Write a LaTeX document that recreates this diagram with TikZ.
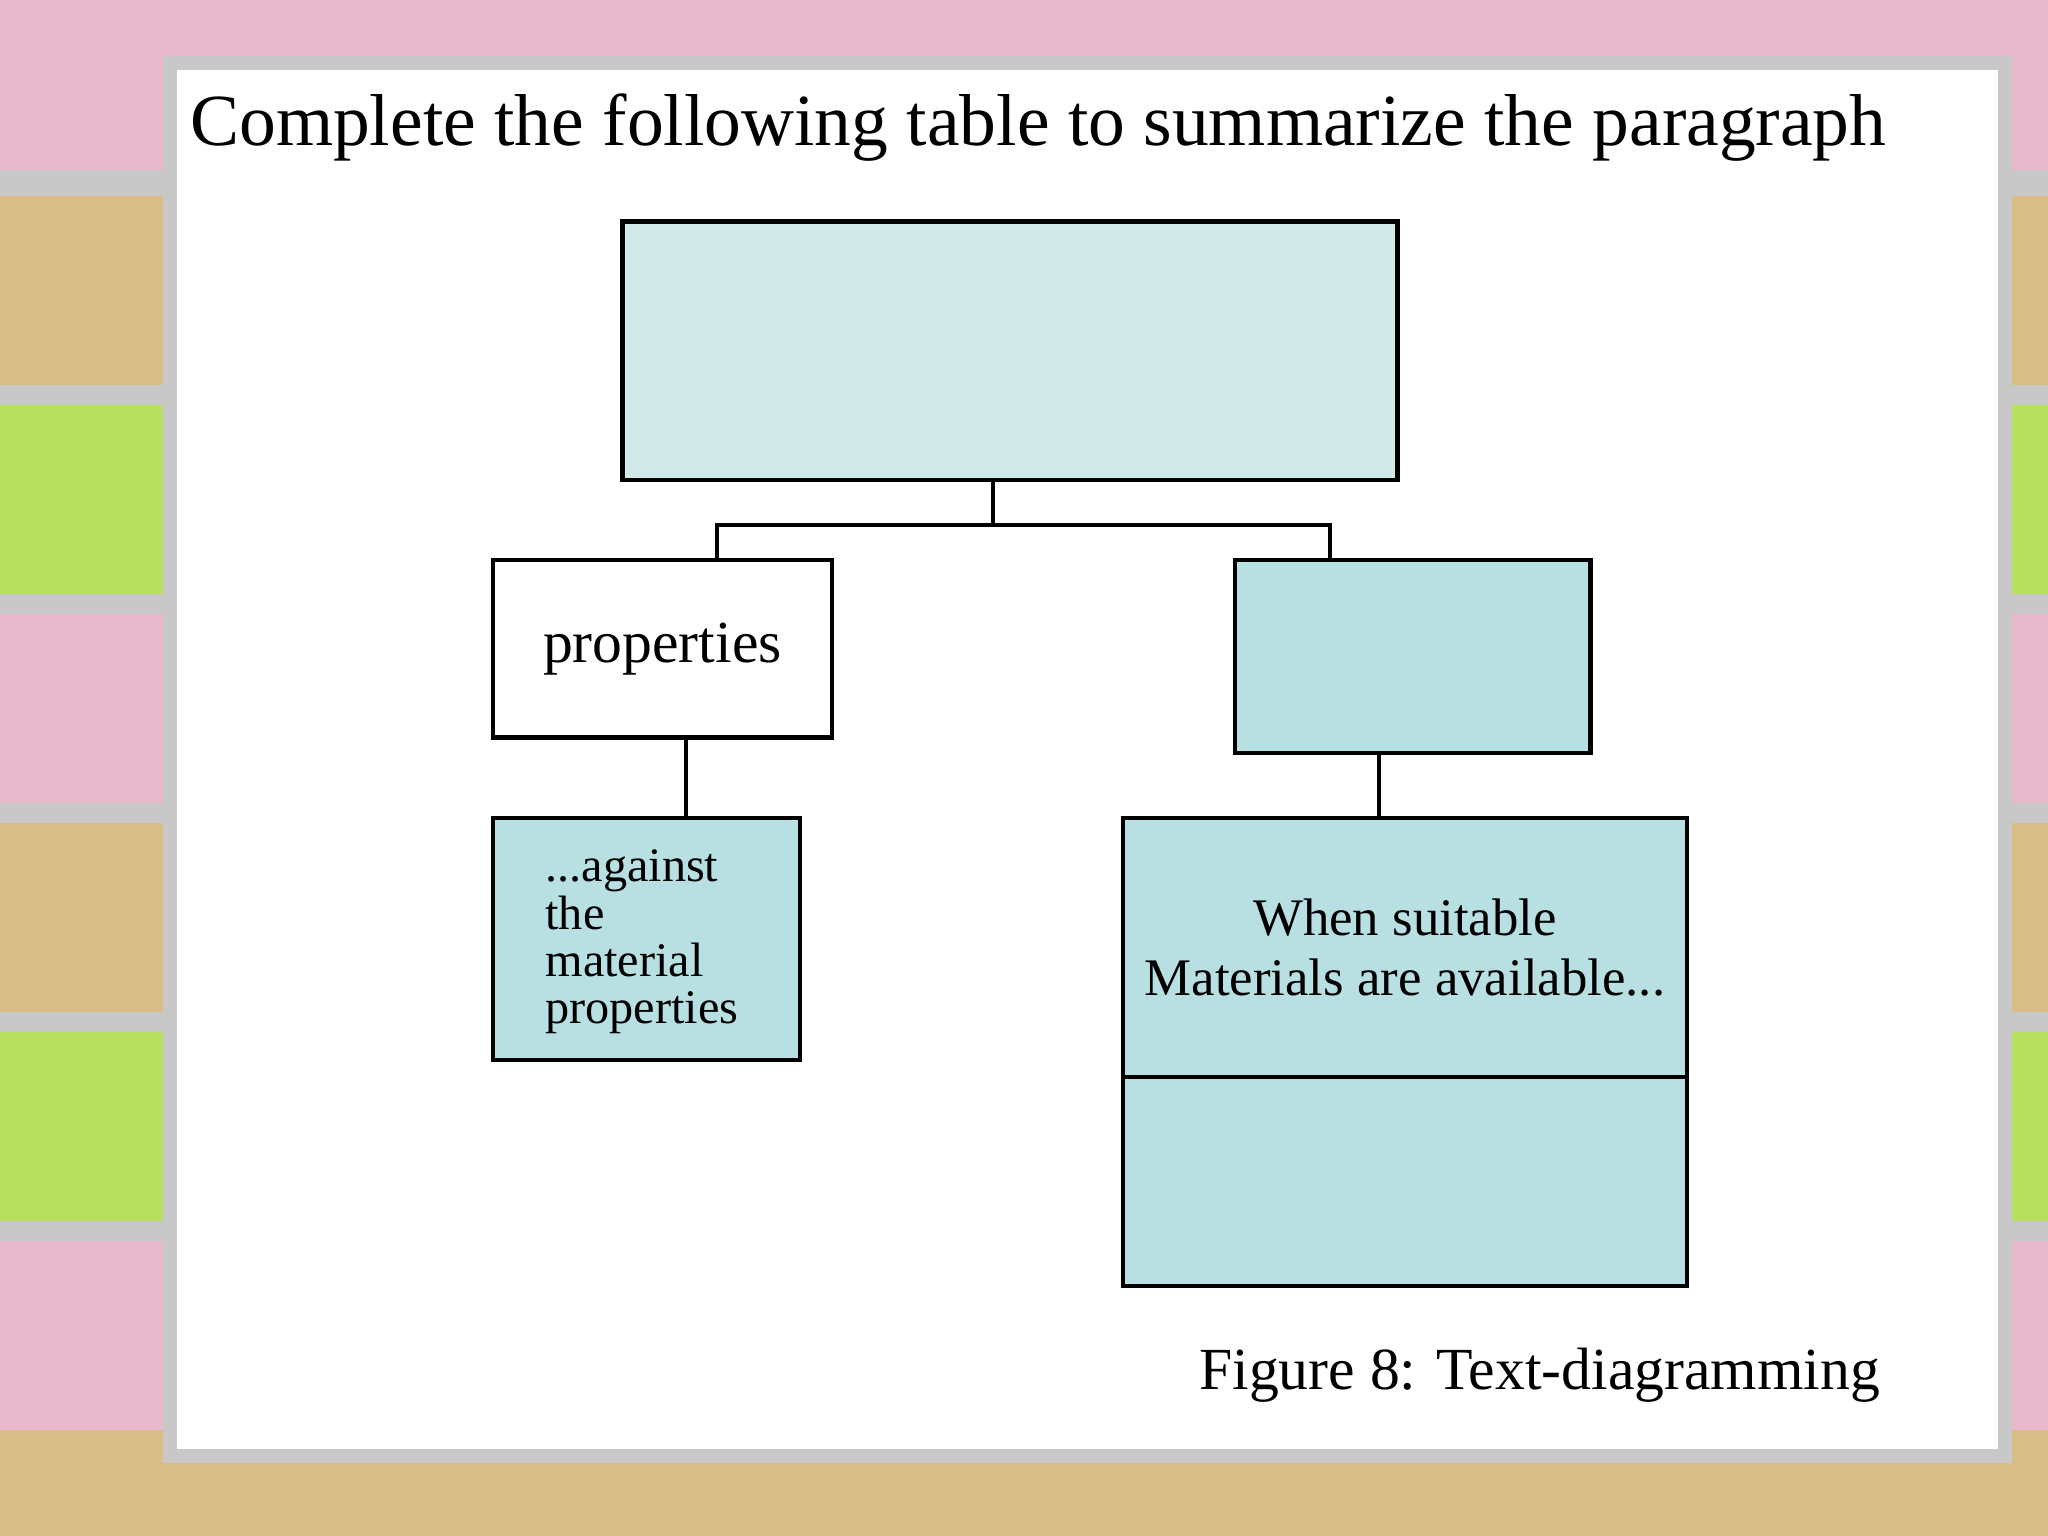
\documentclass[tikz,border=0pt]{standalone}
\usepackage{fontspec}
\setmainfont{Liberation Serif}
\definecolor{pinkb}{HTML}{E8B8CC}
\definecolor{tanb}{HTML}{D8BE86}
\definecolor{greenb}{HTML}{B8E060}
\definecolor{grayb}{HTML}{C8C8C8}
\definecolor{topc}{HTML}{D2E9EA}
\definecolor{boxc}{HTML}{B8E0E2}
\tikzset{box/.style={draw=black,line width=0.9pt,inner sep=0},conn/.style={draw=black,line width=0.9pt}}
\begin{document}
\begin{tikzpicture}[x=0.01cm,y=-0.01cm]
\useasboundingbox (0,0) rectangle (1568,1176);
\fill[pinkb] (0,0) rectangle (1568,1176);
\foreach \a/\c in {130/grayb,150/tanb,295/grayb,310/greenb,455/grayb,470/pinkb,615/grayb,630/tanb,775/grayb,790/greenb,935/grayb,950/pinkb,1095/tanb}{
  \fill[\c] (0,\a) rectangle (1568,1176);}
\fill[tanb] (0,1115) rectangle (1568,1176);
\fill[pinkb] (0,0) rectangle (1568,40);
\fill[white,draw=grayb,line width=3pt] (130,48) rectangle (1535,1115);
\node[anchor=west,font=\fontsize{16pt}{19pt}\selectfont,inner sep=0] (title) at (145,98) {Complete the following table to summarize the paragraph};
\node[box,fill=topc,minimum width=5.93cm,minimum height=1.98cm,anchor=north west] (top) at (475,168) {};
\node[box,fill=white,minimum width=2.59cm,minimum height=1.36cm,anchor=north west,font=\fontsize{13pt}{15pt}\selectfont] (prop) at (376,427) {properties};
\node[box,fill=boxc,minimum width=2.72cm,minimum height=1.48cm,anchor=north west] (rb) at (944,427) {};
\node[box,fill=boxc,minimum width=2.35cm,minimum height=1.85cm,anchor=north west] (lb) at (376,625) {};
\node[anchor=north west,align=left,font=\fontsize{10.5pt}{10.3pt}\selectfont,inner sep=0] (lbt) at (417,650) {...against\\the\\material\\properties};
\node[box,fill=boxc,minimum width=4.32cm,minimum height=1.98cm,anchor=north west,align=center,font=\fontsize{11.5pt}{13pt}\selectfont] (big1) at (858,625) {When suitable\\Materials are available...};
\node[box,fill=boxc,minimum width=4.32cm,minimum height=1.60cm,anchor=north west] (big2) at (858,823) {};
\coordinate (j) at (760,402);
\draw[conn] (top.south -| j) -- (j);
\draw[conn] (549,427) -- (549,402) -- (1018,402) -- (1018,427);
\draw[conn] (prop.south -| 525,0) -- (lb.north -| 525,0);
\draw[conn] (rb.south -| 1056,0) -- (big1.north -| 1056,0);
\node[anchor=east,font=\fontsize{13pt}{15pt}\selectfont,inner sep=0] (cap) at (1440,1053) {Figure 8: Text-diagramming};
\end{tikzpicture}
\end{document}
